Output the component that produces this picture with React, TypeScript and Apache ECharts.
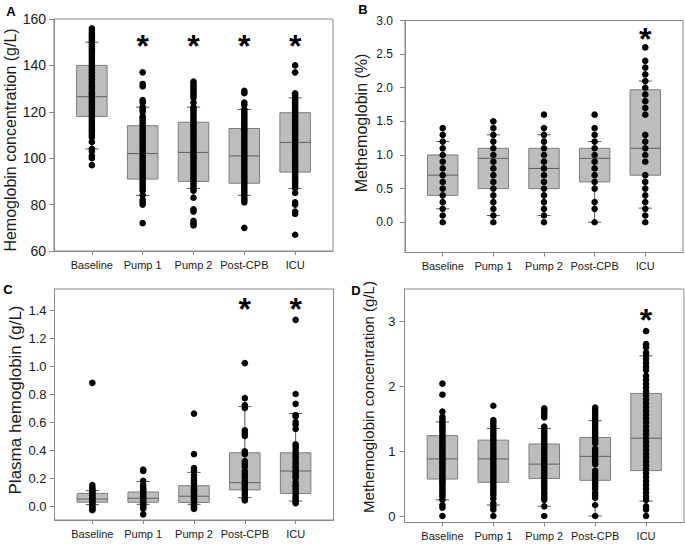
import React, { useEffect, useRef } from "react";
import * as echarts from "echarts";

const CATEGORIES = ["Baseline", "Pump 1", "Pump 2", "Post-CPB", "ICU"];
const CAT_INDEX = [0, 1, 2, 3, 4];

// Panel A: Hemoglobin concentration (g/L)
const A_BASELINE = [97, 100, 101, 103, 104, 107, 109, 110, 111, 112, 113, 114, 115, 116, 117, 118, 119, 120, 121, 122, 123, 124, 125, 126, 127, 128, 129, 130, 131, 132, 133, 134, 135, 136, 137, 138, 139, 140, 141, 142, 143, 144, 145, 146, 147, 148, 149, 150, 151, 152, 153, 154, 155, 156];
const A_PUMP1 = [72, 80, 81, 82, 84, 86, 87, 88, 89, 90, 91, 92, 93, 94, 95, 96, 97, 98, 99, 100, 101, 102, 103, 104, 105, 106, 107, 108, 109, 110, 111, 112, 113, 114, 115, 116, 117, 118, 120, 121, 122, 124, 125, 131, 132, 137];
const A_PUMP2 = [71, 72, 73, 77, 78, 83, 86, 87, 88, 89, 90, 91, 92, 93, 94, 95, 96, 97, 98, 99, 100, 101, 102, 103, 104, 105, 106, 107, 108, 109, 110, 111, 112, 113, 114, 115, 116, 117, 118, 119, 120, 121, 122, 124, 126, 127, 128, 129, 130, 131, 132, 133];
const A_POSTCPB = [70, 81, 82, 83, 84, 85, 86, 87, 88, 89, 90, 91, 92, 93, 94, 95, 96, 97, 98, 99, 100, 101, 102, 103, 104, 105, 106, 107, 108, 109, 110, 111, 112, 113, 114, 115, 116, 117, 118, 119, 120, 121, 123, 124, 128, 129];
const A_ICU = [67, 76, 77, 80, 81, 85, 87, 88, 89, 90, 91, 92, 93, 94, 95, 96, 97, 98, 99, 100, 101, 102, 103, 104, 105, 106, 107, 108, 109, 110, 111, 112, 113, 114, 115, 116, 117, 118, 119, 120, 121, 122, 123, 124, 125, 126, 127, 128, 137, 140];
// [p10, q1, median, q3, p90]
const A_BOX = [
  [104, 118, 126.5, 140, 150],
  [84, 91, 102, 114, 122],
  [87, 90, 102.5, 115.5, 122],
  [84, 89.2, 101, 112.8, 121],
  [87, 94, 106.8, 119.6, 126],
];
const A_SIG = [[1, 148.3], [2, 148.3], [3, 148.3], [4, 148.3]];
const A_TICKS = [60, 80, 100, 120, 140, 160];

// Panel B: Methemoglobin (%)
const B_BASELINE = [0, 0.1, 0.2, 0.3, 0.4, 0.5, 0.6, 0.7, 0.8, 0.9, 1.0, 1.1, 1.2, 1.3, 1.4];
const B_PUMP1 = [0, 0.1, 0.2, 0.3, 0.4, 0.5, 0.6, 0.7, 0.8, 0.9, 1.0, 1.1, 1.2, 1.3, 1.4, 1.5];
const B_PUMP2 = [0, 0.1, 0.2, 0.3, 0.4, 0.5, 0.6, 0.7, 0.8, 0.9, 1.0, 1.1, 1.2, 1.3, 1.4, 1.6];
const B_POSTCPB = [0, 0.2, 0.3, 0.5, 0.6, 0.7, 0.8, 0.9, 1.0, 1.1, 1.2, 1.3, 1.4, 1.6];
const B_ICU = [0, 0.1, 0.2, 0.3, 0.4, 0.5, 0.6, 0.7, 0.9, 1.0, 1.1, 1.2, 1.3, 1.6, 1.7, 1.8, 1.9, 2.0, 2.1, 2.2, 2.3, 2.4, 2.6];
const B_BOX = [
  [0.2, 0.4, 0.7, 1.0, 1.2],
  [0.1, 0.5, 0.95, 1.1, 1.3],
  [0.1, 0.5, 0.8, 1.1, 1.3],
  [0.0, 0.6, 0.95, 1.1, 1.2],
  [0.21, 0.7, 1.1, 1.97, 2.1],
];
const B_SIG = [[4, 2.73]];
const B_TICKS = [0, 0.5, 1.0, 1.5, 2.0, 2.5, 3.0];

// Panel C: Plasma hemoglobin (g/L)
const C_BASELINE = [-0.03, -0.02, -0.01, 0, 0.01, 0.02, 0.03, 0.04, 0.05, 0.06, 0.07, 0.08, 0.09, 0.1, 0.11, 0.12, 0.13, 0.15, 0.88];
const C_PUMP1 = [-0.06, -0.02, -0.01, 0, 0.01, 0.02, 0.03, 0.04, 0.05, 0.06, 0.07, 0.08, 0.09, 0.1, 0.11, 0.12, 0.13, 0.15, 0.18, 0.25, 0.26];
const C_PUMP2 = [-0.02, -0.01, 0, 0.01, 0.02, 0.03, 0.04, 0.05, 0.06, 0.07, 0.08, 0.09, 0.1, 0.11, 0.12, 0.13, 0.14, 0.16, 0.18, 0.2, 0.22, 0.25, 0.27, 0.37, 0.66];
const C_POSTCPB = [0.04, 0.05, 0.06, 0.08, 0.1, 0.12, 0.13, 0.15, 0.16, 0.18, 0.2, 0.22, 0.23, 0.25, 0.28, 0.3, 0.32, 0.37, 0.39, 0.5, 0.52, 0.54, 0.7, 0.72, 0.77, 1.02];
const C_ICU = [0.02, 0.03, 0.05, 0.06, 0.08, 0.1, 0.12, 0.14, 0.15, 0.17, 0.2, 0.21, 0.22, 0.24, 0.25, 0.27, 0.28, 0.3, 0.31, 0.33, 0.35, 0.36, 0.38, 0.4, 0.42, 0.44, 0.55, 0.58, 0.6, 0.64, 0.65, 0.73, 0.8, 1.33];
const C_BOX = [
  [0.01, 0.027, 0.05, 0.09, 0.11],
  [0.012, 0.027, 0.055, 0.1, 0.175],
  [0.012, 0.025, 0.07, 0.145, 0.24],
  [0.06, 0.115, 0.167, 0.38, 0.71],
  [0.035, 0.09, 0.25, 0.38, 0.66],
];
const C_SIG = [[3, 1.41], [4, 1.41]];
const C_TICKS = [0, 0.2, 0.4, 0.6, 0.8, 1.0, 1.2, 1.4];

// Panel D: Methemoglobin concentration (g/L)
const D_BASELINE = [0, 0.13, 0.17, 0.25, 0.3, 0.33, 0.37, 0.4, 0.43, 0.47, 0.5, 0.53, 0.56, 0.6, 0.63, 0.66, 0.7, 0.73, 0.76, 0.8, 0.83, 0.86, 0.9, 0.93, 0.96, 1.0, 1.03, 1.06, 1.1, 1.13, 1.16, 1.2, 1.23, 1.26, 1.3, 1.33, 1.36, 1.4, 1.43, 1.46, 1.5, 1.53, 1.61, 1.87, 2.04];
const D_PUMP1 = [0, 0.1, 0.15, 0.2, 0.27, 0.32, 0.36, 0.4, 0.44, 0.48, 0.52, 0.56, 0.6, 0.64, 0.68, 0.72, 0.76, 0.8, 0.84, 0.88, 0.92, 0.96, 1.0, 1.04, 1.08, 1.12, 1.16, 1.2, 1.24, 1.28, 1.32, 1.36, 1.4, 1.44, 1.48, 1.7];
const D_PUMP2 = [0, 0.15, 0.25, 0.29, 0.33, 0.37, 0.42, 0.46, 0.5, 0.54, 0.58, 0.62, 0.66, 0.7, 0.74, 0.78, 0.82, 0.86, 0.9, 0.94, 0.98, 1.02, 1.06, 1.1, 1.14, 1.18, 1.22, 1.26, 1.3, 1.34, 1.38, 1.52, 1.56, 1.6, 1.63, 1.66];
const D_POSTCPB = [0, 0.17, 0.28, 0.32, 0.36, 0.42, 0.46, 0.5, 0.54, 0.58, 0.62, 0.66, 0.7, 0.8, 0.84, 0.88, 0.92, 0.96, 1.0, 1.04, 1.12, 1.16, 1.2, 1.24, 1.28, 1.32, 1.36, 1.4, 1.44, 1.48, 1.52, 1.56, 1.6, 1.64, 1.67];
const D_ICU = [0, 0.1, 0.15, 0.25, 0.3, 0.36, 0.42, 0.48, 0.54, 0.6, 0.66, 0.72, 0.78, 0.84, 0.9, 0.96, 1.02, 1.08, 1.14, 1.2, 1.26, 1.32, 1.38, 1.44, 1.5, 1.56, 1.62, 1.68, 1.74, 1.8, 1.86, 1.92, 1.98, 2.04, 2.1, 2.16, 2.25, 2.3, 2.36, 2.42, 2.47, 2.52, 2.6, 2.65, 2.85];
const D_BOX = [
  [0.25, 0.57, 0.88, 1.24, 1.45],
  [0.17, 0.52, 0.88, 1.17, 1.35],
  [0.15, 0.58, 0.8, 1.11, 1.35],
  [0.0, 0.55, 0.92, 1.21, 1.47],
  [0.23, 0.7, 1.2, 1.89, 2.47],
];
const D_SIG = [[4, 3.02]];
const D_TICKS = [0, 1, 2, 3];

const FONT = '"Liberation Sans", Arial, Helvetica, sans-serif';
const AXIS_GRAY = "#8a8a8a";
const TEXT = "#1a1a1a";

const PANELS = [
  {
    letter: "A", letterX: 11, letterY: 11,
    grid: { left: 54, top: 19, width: 279, height: 232 },
    yMin: 60, yMax: 160, ticks: A_TICKS, decimals: 0, tickFont: 14, tickMargin: 8,
    title: "Hemoglobin concentration (g/L)", titleX: 10, titleY: 140, titleFont: 16,
    columns: [A_BASELINE, A_PUMP1, A_PUMP2, A_POSTCPB, A_ICU], box: A_BOX, sig: A_SIG,
  },
  {
    letter: "B", letterX: 363, letterY: 9,
    grid: { left: 405, top: 20.5, width: 278, height: 232 },
    yMin: -0.45, yMax: 3.0, ticks: B_TICKS, decimals: 1, tickFont: 12, tickMargin: 12,
    title: "Methemoglobin (%)", titleX: 361, titleY: 123, titleFont: 16,
    columns: [B_BASELINE, B_PUMP1, B_PUMP2, B_POSTCPB, B_ICU], box: B_BOX, sig: B_SIG,
  },
  {
    letter: "C", letterX: 8, letterY: 289,
    grid: { left: 54.5, top: 289, width: 279, height: 231 },
    yMin: -0.1, yMax: 1.55, ticks: C_TICKS, decimals: 1, tickFont: 13, tickMargin: 8,
    title: "Plasma hemoglobin (g/L)", titleX: 15, titleY: 400, titleFont: 17,
    columns: [C_BASELINE, C_PUMP1, C_PUMP2, C_POSTCPB, C_ICU], box: C_BOX, sig: C_SIG,
  },
  {
    letter: "D", letterX: 356, letterY: 290,
    grid: { left: 404.5, top: 289, width: 279.5, height: 233.5 },
    yMin: -0.1, yMax: 3.5, ticks: D_TICKS, decimals: 0, tickFont: 13, tickMargin: 9,
    title: "Methemoglobin concentration (g/L)", titleX: 368, titleY: 397, titleFont: 15,
    columns: [D_BASELINE, D_PUMP1, D_PUMP2, D_POSTCPB, D_ICU], box: D_BOX, sig: D_SIG,
  },
];

const BOX_W = 0.6;
const CAP_W = 0.26;

function renderBox(params: any, api: any) {
  const x = api.value(0);
  const lo = api.coord([x, api.value(1)]);
  const q1 = api.coord([x, api.value(2)]);
  const med = api.coord([x, api.value(3)]);
  const q3 = api.coord([x, api.value(4)]);
  const hi = api.coord([x, api.value(5)]);
  const hw = api.size([BOX_W, 0])[0] / 2;
  const cw = api.size([CAP_W, 0])[0] / 2;
  const cx = lo[0];
  const lineStyle = { stroke: "#5a5a5a", lineWidth: 1 };
  return {
    type: "group",
    children: [
      { type: "line", shape: { x1: cx, y1: lo[1], x2: cx, y2: q1[1] }, style: lineStyle },
      { type: "line", shape: { x1: cx, y1: hi[1], x2: cx, y2: q3[1] }, style: lineStyle },
      {
        type: "rect",
        shape: { x: cx - hw, y: q3[1], width: hw * 2, height: q1[1] - q3[1] },
        style: { fill: "#bdbdbd", stroke: "#7d7d7d", lineWidth: 1 },
      },
      { type: "line", shape: { x1: cx - hw, y1: med[1], x2: cx + hw, y2: med[1] }, style: { stroke: "#5f5f5f", lineWidth: 1 } },
      { type: "line", shape: { x1: cx - cw, y1: lo[1], x2: cx + cw, y2: lo[1] }, style: lineStyle },
      { type: "line", shape: { x1: cx - cw, y1: hi[1], x2: cx + cw, y2: hi[1] }, style: lineStyle },
    ],
  };
}

export default function App() {
  const ref = useRef<HTMLDivElement>(null);

  useEffect(() => {
    if (!ref.current) return;
    const chart = echarts.init(ref.current, undefined, { renderer: "svg" });

    const grids: any[] = [];
    const xAxes: any[] = [];
    const yAxes: any[] = [];
    const series: any[] = [];
    const graphics: any[] = [];

    PANELS.forEach((p, k) => {
      grids.push({
        ...p.grid,
        show: true,
        borderColor: AXIS_GRAY,
        borderWidth: 1,
        backgroundColor: "transparent",
      });
      xAxes.push({
        type: "value",
        gridIndex: k,
        min: -0.745,
        max: 4.745,
        splitLine: { show: false },
        axisLine: { show: true, onZero: false, lineStyle: { color: AXIS_GRAY } },
        axisTick: { show: true, length: 4, customValues: CAT_INDEX, lineStyle: { color: AXIS_GRAY } },
        axisLabel: {
          customValues: CAT_INDEX,
          formatter: (v: number) => CATEGORIES[Math.round(v)] ?? "",
          color: TEXT,
          fontSize: 11,
          fontFamily: FONT,
          margin: 8,
        },
      });
      yAxes.push({
        type: "value",
        gridIndex: k,
        min: p.yMin,
        max: p.yMax,
        splitLine: { show: false },
        axisLine: { show: true, onZero: false, lineStyle: { color: AXIS_GRAY } },
        axisTick: { show: true, length: 5, customValues: p.ticks, lineStyle: { color: AXIS_GRAY } },
        axisLabel: {
          customValues: p.ticks,
          formatter: (v: number) => v.toFixed(p.decimals),
          color: TEXT,
          fontSize: p.tickFont,
          fontFamily: FONT,
          margin: p.tickMargin,
        },
      });
      series.push({
        type: "custom",
        xAxisIndex: k,
        yAxisIndex: k,
        renderItem: renderBox,
        encode: { x: 0, y: [1, 2, 3, 4, 5] },
        data: p.box.map((b, i) => [i, ...b]),
        z: 2,
      });
      const pts: number[][] = [];
      p.columns.forEach((col, i) => col.forEach((v) => pts.push([i, v])));
      series.push({
        type: "scatter",
        xAxisIndex: k,
        yAxisIndex: k,
        symbol: "circle",
        symbolSize: 6.6,
        itemStyle: { color: "#000", opacity: 1 },
        data: pts,
        z: 3,
      });
      series.push({
        type: "scatter",
        xAxisIndex: k,
        yAxisIndex: k,
        symbol: "circle",
        symbolSize: 0,
        itemStyle: { color: "#000", opacity: 1 },
        label: {
          show: true,
          position: "inside",
          formatter: "*",
          fontSize: 32,
          fontWeight: "bold",
          fontFamily: FONT,
          color: "#000",
          opacity: 1,
          textBorderWidth: 0,
        },
        data: p.sig,
        z: 4,
      });
      graphics.push({
        type: "text",
        x: p.letterX,
        y: p.letterY,
        style: {
          text: p.letter,
          fontSize: 13,
          fontWeight: "bold",
          fontFamily: FONT,
          fill: "#000",
          align: "center",
          verticalAlign: "middle",
        },
      });
      graphics.push({
        type: "text",
        x: p.titleX,
        y: p.titleY,
        rotation: Math.PI / 2,
        style: {
          text: p.title,
          fontSize: p.titleFont,
          fontFamily: FONT,
          fill: TEXT,
          align: "center",
          verticalAlign: "middle",
        },
      });
    });

    chart.setOption({
      animation: false,
      backgroundColor: "#fff",
      grid: grids,
      xAxis: xAxes,
      yAxis: yAxes,
      series,
      graphic: graphics,
    });

    return () => chart.dispose();
  }, []);

  return <div ref={ref} style={{ width: 685, height: 545, position: "absolute", left: 0, top: 0 }} />;
}
